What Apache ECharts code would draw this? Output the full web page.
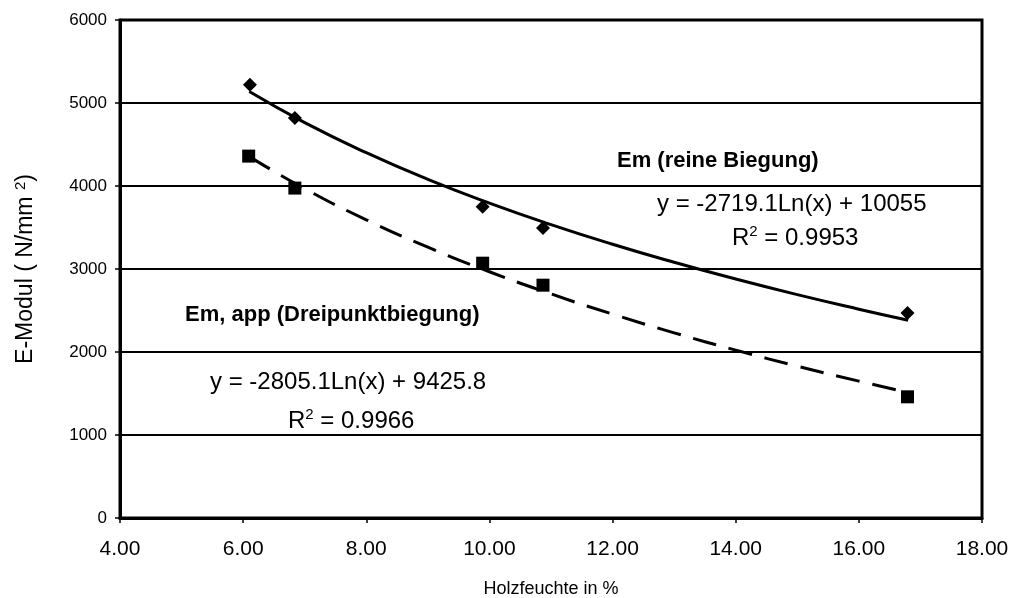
<!DOCTYPE html>
<html><head><meta charset="utf-8">
<script src="https://cdn.jsdelivr.net/npm/echarts@6/dist/echarts.min.js"></script>
<style>html,body{margin:0;padding:0;background:#fff}#c{width:1023px;height:598px}</style>
</head><body><div id="c"></div>
<script>
// Measured points
const xReine = [6.11, 6.84, 9.89, 10.87, 16.79];
const yReine = [5220, 4820, 3750, 3495, 2470];
const xDrei = [6.09, 6.84, 9.89, 10.87, 16.79];
const yDrei = [4360, 3975, 3070, 2805, 1460];
// Trend lines
const xTrend = [6.1, 7, 8, 9, 10, 11, 12, 13, 14, 15, 16, 16.8];
const yTrendReine = [5138, 4764, 4401, 4080, 3794, 3535, 3298, 3081, 2879, 2691, 2516, 2383];
const yTrendDrei = [4354, 3968, 3593, 3263, 2967, 2700, 2456, 2231, 2023, 1829, 1649, 1512];
const yTicks = [0, 1000, 2000, 3000, 4000, 5000, 6000];
const xTicks = [4, 6, 8, 10, 12, 14, 16, 18];

const zip = (a, b) => a.map((v, i) => [v, b[i]]);
const F = "'Liberation Sans', Arial, sans-serif";
const chart = echarts.init(document.getElementById('c'));
const txt = (x, y, text, font) => ({type: 'text', x: x, y: y, style: {text: text, font: font, fill: '#000', textAlign: 'left', textVerticalAlign: 'middle'}});
const rtxt = (x, y, val) => ({type: 'text', x: x, y: y, style: {text: '{n|R}{s|2}{n| = ' + val + '}', textAlign: 'left', textVerticalAlign: 'middle',
  rich: {n: {fontSize: 24, fontFamily: F, color: '#000'}, s: {fontSize: 15, fontFamily: F, color: '#000', verticalAlign: 'top', padding: [0, 0, 12, 0]}}}});
chart.setOption({
  animation: false,
  grid: {left: 120, right: 41, top: 20, bottom: 80, outerBoundsMode: 'none', containLabel: false, show: true, borderColor: '#000', borderWidth: 3, backgroundColor: '#fff'},
  xAxis: {
    type: 'value', min: xTicks[0], max: xTicks[xTicks.length - 1], interval: 2,
    axisLine: {lineStyle: {color: '#000', width: 3}},
    axisTick: {show: true, length: 5, lineStyle: {color: '#000', width: 1.5}},
    axisLabel: {formatter: v => v.toFixed(2), color: '#000', fontFamily: F, fontSize: 21, margin: 21},
    splitLine: {show: false},
    name: 'Holzfeuchte in %', nameLocation: 'middle', nameGap: 62,
    nameTextStyle: {color: '#000', fontFamily: F, fontSize: 18}
  },
  yAxis: {
    type: 'value', min: yTicks[0], max: yTicks[yTicks.length - 1], interval: 1000,
    axisLine: {show: true, lineStyle: {color: '#000', width: 3}},
    axisTick: {show: true, length: 5, lineStyle: {color: '#000', width: 1.5}},
    axisLabel: {formatter: v => String(v), color: '#000', fontFamily: F, fontSize: 17, margin: 13},
    splitLine: {show: true, lineStyle: {color: '#000', width: 2}},
    name: 'E-Modul ( N/mm {sup|2})', nameLocation: 'middle', nameGap: 82, nameRotate: 90,
    nameTextStyle: {color: '#000', fontFamily: F, fontSize: 23, rich: {sup: {fontSize: 15, verticalAlign: 'top', padding: [0, 0, 10, 0], fontFamily: F, color: '#000'}}}
  },
  series: [
    {type: 'line', data: zip(xTrend, yTrendReine), smooth: true, showSymbol: false, lineStyle: {color: '#000', width: 3}, z: 2},
    {type: 'line', data: zip(xTrend, yTrendDrei), smooth: true, showSymbol: false, lineStyle: {color: '#000', width: 3, type: [24, 13]}, z: 2},
    {type: 'scatter', data: zip(xReine, yReine), symbol: 'diamond', symbolSize: 14, itemStyle: {color: '#000', opacity: 1}, z: 3},
    {type: 'scatter', data: zip(xDrei, yDrei), symbol: 'rect', symbolSize: 13, itemStyle: {color: '#000', opacity: 1}, z: 3}
  ],
  graphic: [
    txt(617, 161, 'Em (reine Biegung)', "bold 22px 'Liberation Sans', Arial"),
    txt(657, 204, 'y = -2719.1Ln(x) + 10055', "24px 'Liberation Sans', Arial"),
    rtxt(732, 238, '0.9953'),
    txt(185, 315, 'Em, app (Dreipunktbiegung)', "bold 22px 'Liberation Sans', Arial"),
    txt(210, 382, 'y = -2805.1Ln(x) + 9425.8', "24px 'Liberation Sans', Arial"),
    rtxt(288, 421, '0.9966')
  ]
});
</script></body></html>
